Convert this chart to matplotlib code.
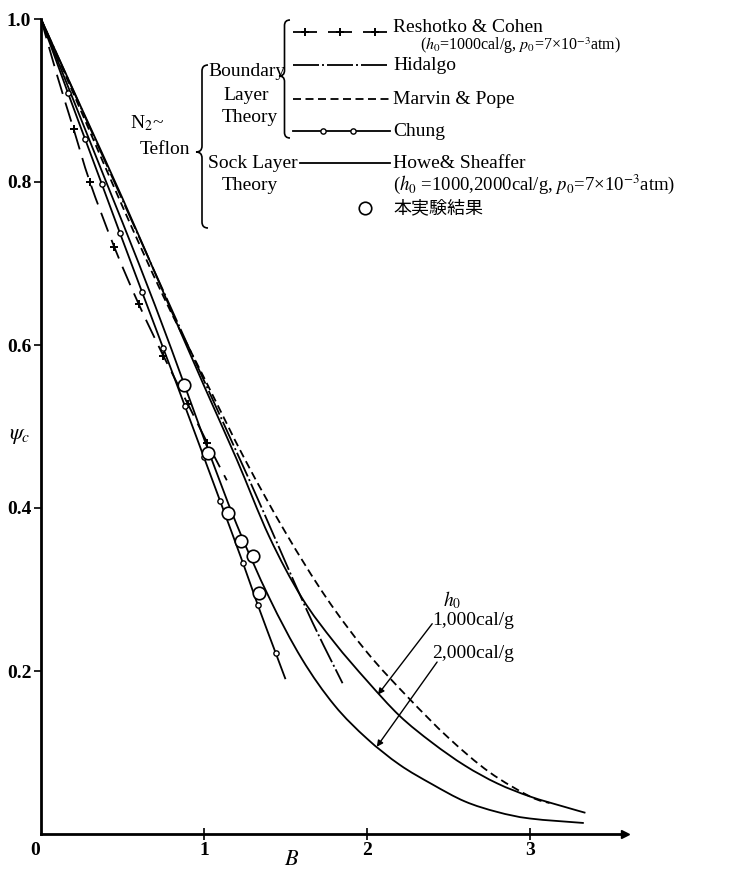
import matplotlib
matplotlib.use("Agg")
import matplotlib.pyplot as plt
from matplotlib.path import Path
from matplotlib.patches import PathPatch

plt.rcParams['lines.scale_dashes'] = False
plt.rcParams['font.family'] = ['Liberation Serif', 'Noto Sans CJK JP', 'DejaVu Sans']
plt.rcParams['mathtext.fontset'] = 'stix'

# ---- curves: B (abscissa) and psi_c (ordinate) ----
howe1000_B = [0, 0.25, 0.5, 0.75, 1.0, 1.2, 1.4, 1.6, 1.8, 2.0, 2.2, 2.4, 2.6, 2.8, 3.0, 3.2, 3.34]
howe1000_psi = [1.0, 0.89, 0.78, 0.665, 0.55, 0.46, 0.365, 0.29, 0.235, 0.188, 0.145, 0.112, 0.084, 0.062, 0.046, 0.034, 0.026]

howe2000_B = [0, 0.2, 0.4, 0.6, 0.8, 1.0, 1.2, 1.4, 1.6, 1.8, 2.0, 2.2, 2.4, 2.6, 2.8, 3.0, 3.33]
howe2000_psi = [1.0, 0.90, 0.80, 0.70, 0.595, 0.485, 0.38, 0.29, 0.215, 0.158, 0.117, 0.085, 0.061, 0.040, 0.027, 0.019, 0.0135]

marvin_B = [0, 0.25, 0.5, 0.75, 1.0, 1.25, 1.5, 1.75, 2.0, 2.25, 2.5, 2.75, 3.0, 3.12]
marvin_psi = [1.0, 0.885, 0.77, 0.66, 0.56, 0.46, 0.37, 0.29, 0.223, 0.168, 0.118, 0.076, 0.046, 0.038]

chung_B = [0, 0.166, 0.27, 0.374, 0.485, 0.62, 0.75, 0.883, 1.0, 1.10, 1.24, 1.33, 1.44, 1.50]
chung_psi = [1.0, 0.909, 0.853, 0.797, 0.737, 0.665, 0.596, 0.525, 0.462, 0.408, 0.332, 0.281, 0.222, 0.19]

reshotko_B = [0, 0.1, 0.2, 0.3, 0.45, 0.6, 0.75, 0.9, 1.02, 1.14]
reshotko_psi = [1.0, 0.93, 0.865, 0.80, 0.72, 0.65, 0.587, 0.528, 0.48, 0.434]

hidalgo_B = [0, 0.45, 0.90, 1.27, 1.63, 1.85]
hidalgo_psi = [1.0, 0.80, 0.60, 0.438, 0.275, 0.185]

# experimental results (open circles)
exp_B = [0.877, 1.025, 1.15, 1.23, 1.30, 1.34]
exp_psi = [0.551, 0.467, 0.394, 0.360, 0.341, 0.296]

xtick_vals = [1, 2, 3]
ytick_vals = [0.2, 0.4, 0.6, 0.8, 1.0]
ytick_labels = ['0.2', '0.4', '0.6', '0.8', '1.0']

W, H = 742, 872
fig = plt.figure(figsize=(W / 100, H / 100), dpi=100)

X0, Y0 = 41, 834
SX, SY = 163, 815
XMAX = 3.58
ax = fig.add_axes([X0 / W, 1 - Y0 / H, XMAX * SX / W, SY / H])
ax.set_xlim(0, XMAX)
ax.set_ylim(0, 1.0)
for s in ('top', 'right'):
    ax.spines[s].set_visible(False)
for s in ('left', 'bottom'):
    ax.spines[s].set_linewidth(2.0)
ax.plot(1, 0, '>k', ms=6, transform=ax.get_yaxis_transform(), clip_on=False)

ax.set_xticks(xtick_vals)
ax.set_xticklabels([str(v) for v in xtick_vals], fontsize=14, fontweight='bold')
ax.set_yticks(ytick_vals)
ax.set_yticklabels(ytick_labels, fontsize=14, fontweight='bold')
ax.tick_params(axis='x', direction='inout', length=8, width=1.2, pad=2)
ax.tick_params(axis='y', direction='out', length=5, width=1.2, pad=2)
ax.text(-0.035, -0.02, '0', ha='center', va='center', fontsize=14, fontweight='bold')

fig.text(20 / W, 1 - 437 / H, r'$\psi_c$', fontsize=16, ha='center', va='center')
fig.text(292 / W, 1 - 860 / H, r'$B$', fontsize=16, ha='center', va='center')

PT = 72 / 100  # points per pixel
LW = 1.3
RESHOTKO_DASH = (0, (20 * PT, 9 * PT))
HIDALGO_DASH = (0, (26 * PT, 3 * PT, 2 * PT, 3 * PT))
MARVIN_DASH = (0, (8 * PT, 4.5 * PT))


def smooth_curve(xs, ys, linestyle='-'):
    """Draw a smooth curve through the given points (Catmull-Rom as cubic Beziers)."""
    pts = list(zip(xs, ys))
    verts = [pts[0]]
    codes = [Path.MOVETO]
    n = len(pts)
    for i in range(n - 1):
        p0 = pts[i - 1] if i > 0 else pts[i]
        p1, p2 = pts[i], pts[i + 1]
        p3 = pts[i + 2] if i + 2 < n else pts[i + 1]
        c1 = (p1[0] + (p2[0] - p0[0]) / 6, p1[1] + (p2[1] - p0[1]) / 6)
        c2 = (p2[0] - (p3[0] - p1[0]) / 6, p2[1] - (p3[1] - p1[1]) / 6)
        verts += [c1, c2, p2]
        codes += [Path.CURVE4] * 3
    patch = PathPatch(Path(verts, codes), fill=False, ec='k', lw=LW,
                      linestyle=linestyle, capstyle='butt', joinstyle='round')
    ax.add_patch(patch)


smooth_curve(reshotko_B, reshotko_psi, RESHOTKO_DASH)
ax.plot(reshotko_B[2:-1], reshotko_psi[2:-1], '+', color='k', ms=6, mew=1.4)
smooth_curve(hidalgo_B, hidalgo_psi, HIDALGO_DASH)
smooth_curve(marvin_B, marvin_psi, MARVIN_DASH)
smooth_curve(chung_B, chung_psi)
ax.plot(chung_B[1:-1], chung_psi[1:-1], 'o', ms=3.8, mfc='white', mec='k', mew=1.0)
smooth_curve(howe1000_B, howe1000_psi)
smooth_curve(howe2000_B, howe2000_psi)
ax.plot(exp_B, exp_psi, 'o', ms=9, mfc='white', mec='k', mew=1.2, zorder=5)

# enthalpy labels with arrows to the Howe & Sheaffer curves
ax.text(2.52, 0.287, r'$h_0$', fontsize=14, ha='center', va='center')
ax.text(2.40, 0.262, '1,000cal/g', fontsize=14, ha='left', va='center')
ax.text(2.40, 0.222, '2,000cal/g', fontsize=14, ha='left', va='center')
arrow = dict(arrowstyle='-|>', mutation_scale=9, lw=1.0, color='k', shrinkA=0, shrinkB=0)
ax.annotate('', xy=(2.067, 0.171), xytext=(2.40, 0.258), arrowprops=arrow)
ax.annotate('', xy=(2.06, 0.107), xytext=(2.43, 0.211), arrowprops=arrow)

# ---- key, drawn in figure pixel space ----
ov = fig.add_axes([0, 0, 1, 1], facecolor='none')
ov.set_xlim(0, W)
ov.set_ylim(H, 0)
ov.axis('off')


def brace(x_tip, y_top, y_bot, y_mid, w):
    xm = x_tip + w / 2
    r = w / 2
    verts = [(x_tip + w, y_top), (xm, y_top), (xm, y_top + r),
             (xm, y_mid - r), (xm, y_mid), (x_tip, y_mid),
             (xm, y_mid), (xm, y_mid + r),
             (xm, y_bot - r), (xm, y_bot), (x_tip + w, y_bot)]
    codes = [Path.MOVETO, Path.CURVE3, Path.CURVE3,
             Path.LINETO, Path.CURVE3, Path.CURVE3,
             Path.CURVE3, Path.CURVE3,
             Path.LINETO, Path.CURVE3, Path.CURVE3]
    ov.add_patch(PathPatch(Path(verts, codes), fill=False, lw=1.2, ec='k'))


TS = 14
brace(196, 65, 228, 152, 12)
brace(279, 20, 138, 76, 11)

ov.text(130, 123, r'N$_2$~', fontsize=TS, ha='left', va='center')
ov.text(140, 150, 'Teflon', fontsize=TS, ha='left', va='center')
ov.text(208, 72, 'Boundary', fontsize=TS, ha='left', va='center')
ov.text(246, 95, 'Layer', fontsize=TS, ha='center', va='center')
ov.text(250, 117, 'Theory', fontsize=TS, ha='center', va='center')
ov.text(208, 163, 'Sock Layer', fontsize=TS, ha='left', va='center')
ov.text(250, 185, 'Theory', fontsize=TS, ha='center', va='center')

kx0, kx1 = 293, 390
ov.plot([kx0, kx1], [32, 32], color='k', lw=LW, linestyle=(0, (24 * PT, 11 * PT)))
ov.plot([305, 340, 375], [32, 32, 32], '+', color='k', ms=6, mew=1.4)
ov.plot([kx0, kx1], [65, 65], color='k', lw=LW, linestyle=HIDALGO_DASH)
ov.plot([kx0, kx1], [99, 99], color='k', lw=LW, linestyle=MARVIN_DASH)
ov.plot([kx0, kx1], [131, 131], color='k', lw=LW)
ov.plot([323, 353], [131, 131], 'o', ms=3.8, mfc='white', mec='k', mew=1.0)
ov.plot([300, kx1], [163, 163], color='k', lw=LW)
ov.plot([365], [208], 'o', ms=9, mfc='white', mec='k', mew=1.2)

ov.text(393, 27, 'Reshotko & Cohen', fontsize=TS, ha='left', va='center')
ov.text(420, 46, r'($h_0$=1000cal/g, $p_0$=7×10$^{-3}$atm)', fontsize=11.5, ha='left', va='center')
ov.text(393, 66, 'Hidalgo', fontsize=TS, ha='left', va='center')
ov.text(393, 99, 'Marvin & Pope', fontsize=TS, ha='left', va='center')
ov.text(393, 131, 'Chung', fontsize=TS, ha='left', va='center')
ov.text(393, 163, 'Howe& Sheaffer', fontsize=TS, ha='left', va='center')
ov.text(393, 184, r'($h_0$ =1000,2000cal/g, $p_0$=7×10$^{-3}$atm)', fontsize=13.5, ha='left', va='center')
ov.text(393, 208, '本実験結果', fontsize=13, ha='left', va='center',
        family=['Noto Sans CJK JP', 'DejaVu Sans'])

fig.savefig('out.png', dpi=100)
